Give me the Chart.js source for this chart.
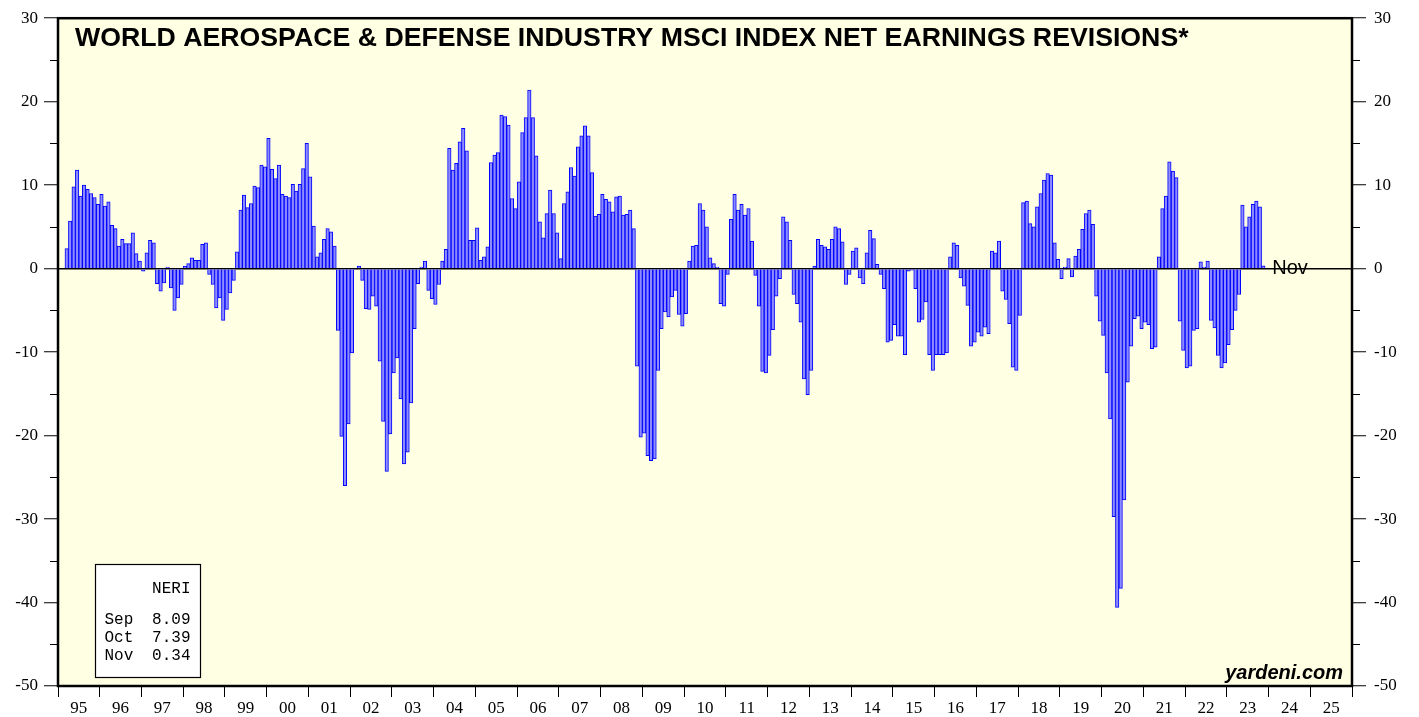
<!DOCTYPE html>
<html>
<head>
<meta charset="utf-8">
<title>World Aerospace & Defense NERI</title>
<script src="https://cdn.jsdelivr.net/npm/chart.js@4.4.0/dist/chart.umd.min.js"></script>
<style>
  html, body { margin: 0; padding: 0; background: #fff; }
  #wrap { width: 1419px; height: 717px; }
</style>
</head>
<body>
<div id="wrap"><canvas id="neriChart" width="1419" height="717"></canvas></div>
<script>
// NERI, monthly values starting Mar 1995 (one line per year)
const firstYear = 1995;
const firstMonth = 2; // 0 = Jan
const neri = [
  /*1995*/ 2.4, 5.7, 9.8, 11.8, 8.7, 10.0, 9.5, 9.0, 8.5, 7.7,
  /*1996*/ 8.9, 7.5, 8.0, 5.2, 4.8, 2.7, 3.5, 3.0, 3.0, 4.3, 1.8, 0.9,
  /*1997*/ -0.3, 1.9, 3.4, 3.1, -1.8, -2.7, -1.7, 0.2, -2.3, -5.0, -3.5, -1.9,
  /*1998*/ 0.3, 0.6, 1.3, 1.0, 1.0, 2.9, 3.1, -0.7, -1.9, -4.7, -3.5, -6.2,
  /*1999*/ -4.9, -2.9, -1.4, 2.0, 7.0, 8.8, 7.3, 7.8, 9.9, 9.7, 12.4, 12.2,
  /*2000*/ 15.6, 11.9, 10.8, 12.4, 8.9, 8.7, 8.5, 10.1, 9.3, 10.1, 12.0, 15.0,
  /*2001*/ 11.0, 5.1, 1.4, 1.9, 3.5, 4.8, 4.4, 2.7, -7.4, -20.1, -26.0, -18.6,
  /*2002*/ -10.1, -0.1, 0.3, -1.4, -4.8, -4.9, -3.3, -4.5, -11.1, -18.3, -24.3, -19.8,
  /*2003*/ -12.5, -10.7, -15.6, -23.4, -22.0, -16.1, -7.2, -1.8, 0.2, 0.9, -2.6, -3.6,
  /*2004*/ -4.3, -1.9, 0.9, 2.3, 14.4, 11.8, 12.6, 15.2, 16.8, 14.1, 3.4, 3.4,
  /*2005*/ 4.9, 1.0, 1.4, 2.6, 12.7, 13.6, 13.9, 18.4, 18.2, 17.2, 8.4, 7.2,
  /*2006*/ 10.4, 16.3, 18.1, 21.4, 18.1, 13.5, 5.6, 3.7, 6.6, 9.4, 6.6, 4.3,
  /*2007*/ 1.2, 7.8, 9.2, 12.1, 11.1, 14.6, 15.9, 17.1, 15.9, 11.5, 6.3, 6.5,
  /*2008*/ 8.9, 8.3, 8.0, 6.8, 8.6, 8.7, 6.4, 6.5, 7.0, 4.8, -11.7, -20.2,
  /*2009*/ -19.7, -22.4, -23.0, -22.8, -12.2, -7.2, -5.2, -5.8, -3.4, -2.6, -5.5, -6.9,
  /*2010*/ -5.4, 0.9, 2.7, 2.8, 7.8, 7.0, 5.0, 1.3, 0.6, 0.2, -4.2, -4.5,
  /*2011*/ -0.7, 5.9, 8.9, 7.0, 7.7, 6.4, 7.2, 3.3, -0.8, -4.5, -12.3, -12.5,
  /*2012*/ -10.4, -7.3, -3.3, -1.2, 6.2, 5.6, 3.4, -3.1, -4.2, -6.4, -13.2, -15.1,
  /*2013*/ -12.2, 0.3, 3.5, 2.8, 2.6, 2.3, 3.5, 5.0, 4.8, 3.2, -1.9, -0.7,
  /*2014*/ 2.1, 2.5, -1.1, -1.8, 1.9, 4.6, 3.6, 0.5, -0.7, -2.4, -8.8, -8.6,
  /*2015*/ -6.7, -8.1, -8.1, -10.3, -0.3, -0.2, -2.4, -6.4, -6.1, -4.0, -10.3, -12.2,
  /*2016*/ -10.3, -10.3, -10.3, -10.1, 1.4, 3.1, 2.8, -1.1, -2.1, -4.4, -9.3, -8.8,
  /*2017*/ -7.6, -8.1, -7.0, -7.8, 2.1, 1.9, 3.3, -2.7, -3.7, -6.6, -11.8, -12.2,
  /*2018*/ -5.6, 7.9, 8.1, 5.4, 5.0, 7.4, 9.0, 10.6, 11.4, 11.2, 3.1, 1.1,
  /*2019*/ -1.2, 0.2, 1.2, -1.0, 1.5, 2.3, 4.7, 6.6, 7.0, 5.3, -3.3, -6.3,
  /*2020*/ -8.0, -12.5, -18.0, -29.7, -40.6, -38.3, -27.7, -13.6, -9.3, -6.0, -5.7, -7.2,
  /*2021*/ -6.4, -6.7, -9.6, -9.4, 1.4, 7.2, 8.7, 12.8, 11.7, 10.9, -6.3, -9.8,
  /*2022*/ -11.9, -11.7, -7.4, -7.2, 0.8, 0.2, 0.9, -6.2, -7.1, -10.4, -11.9, -11.3,
  /*2023*/ -9.1, -7.3, -5.0, -3.1, 7.6, 5.0, 6.2, 7.7, 8.09, 7.39, 0.34
];

const yearLabels = ['95','96','97','98','99','00','01','02','03','04','05','06','07','08','09','10',
                    '11','12','13','14','15','16','17','18','19','20','21','22','23','24','25'];
const monthNames = ['Jan','Feb','Mar','Apr','May','Jun','Jul','Aug','Sep','Oct','Nov','Dec'];
const yMin = -50, yMax = 30;

const chartTitle = 'WORLD AEROSPACE & DEFENSE INDUSTRY MSCI INDEX NET EARNINGS REVISIONS*';
const sourceText = 'yardeni.com';

// month index (0 = Jan 1995) -> bar centre
const points = neri.map((v, i) => ({ x: firstMonth + i + 0.5, y: v }));
const lastIdx = firstMonth + neri.length - 1;

const SANS = '"Liberation Sans", Arial, sans-serif';
const SERIF = '"Liberation Serif", "Times New Roman", serif';
const MONO = '"Liberation Mono", "Courier New", monospace';

const plotDecor = {
    id: 'plotDecor',
    beforeDraw(chart) {
        const { ctx, chartArea: a } = chart;
        ctx.save();
        ctx.fillStyle = '#ffffe3';
        ctx.fillRect(a.left, a.top, a.right - a.left, a.bottom - a.top);
        ctx.restore();
    },
    afterDraw(chart) {
        const { ctx, chartArea: a } = chart;
        const xs = chart.scales.x, ys = chart.scales.y;
        ctx.save();

        // frame
        ctx.strokeStyle = '#000';
        ctx.lineWidth = 2.5;
        ctx.strokeRect(a.left, a.top, a.right - a.left, a.bottom - a.top);

        // minor ticks every 5
        ctx.lineWidth = 1;
        for (let v = yMin + 5; v < yMax; v += 10) {
            const py = Math.round(ys.getPixelForValue(v)) + 0.5;
            ctx.beginPath();
            ctx.moveTo(a.left - 8, py); ctx.lineTo(a.left, py);
            ctx.moveTo(a.right, py); ctx.lineTo(a.right + 8, py);
            ctx.stroke();
        }

        // title inside plot
        ctx.fillStyle = '#000';
        ctx.font = 'bold 26.7px ' + SANS;
        ctx.textBaseline = 'alphabetic';
        ctx.textAlign = 'left';
        ctx.fillText(chartTitle, a.left + 17, a.top + 28);

        // last month label
        const lastX = xs.getPixelForValue(lastIdx + 0.5);
        ctx.font = '20px ' + SANS;
        ctx.fillText(monthNames[(lastIdx) % 12], lastX + 9, ys.getPixelForValue(0) + 5);

        // source
        ctx.font = 'italic bold 20px ' + SANS;
        ctx.textAlign = 'right';
        ctx.fillText(sourceText, a.right - 9, a.bottom - 7);

        // value box
        const bx = 95.5, by = 564.5, bw = 105, bh = 113;
        ctx.fillStyle = '#ffffff';
        ctx.fillRect(bx, by, bw, bh);
        ctx.strokeStyle = '#000';
        ctx.lineWidth = 1.2;
        ctx.strokeRect(bx, by, bw, bh);
        ctx.fillStyle = '#000';
        ctx.font = '16px ' + MONO;
        ctx.textAlign = 'right';
        ctx.fillText('NERI', bx + 95, by + 28);
        const rows = [624, 642, 660];
        for (let k = 0; k < 3; k++) {
            const idx = neri.length - 3 + k;
            const m = (firstMonth + idx) % 12;
            ctx.textAlign = 'left';
            ctx.fillText(monthNames[m], bx + 9, rows[k]);
            ctx.textAlign = 'right';
            ctx.fillText(neri[idx].toFixed(2), bx + 95, rows[k]);
        }
        ctx.restore();
    }
};

const yAxis = (pos, width, pad) => ({
    type: 'linear',
    position: pos,
    min: yMin,
    max: yMax,
    border: { display: false },
    grid: {
        drawOnChartArea: pos === 'left',
        drawTicks: true,
        tickLength: 14,
        lineWidth: 1.5,
        tickWidth: 1,
        color: c => (c.tick && c.tick.value === 0) ? '#000' : 'rgba(0,0,0,0)',
        tickColor: c => (c.tick && c.tick.value % 10 === 0) ? '#000' : 'rgba(0,0,0,0)'
    },
    ticks: {
        stepSize: 5,
        padding: pad,
        color: '#000',
        font: { family: SERIF, size: 17 },
        callback: v => (v % 10 === 0 ? String(v) : '')
    },
    afterFit: s => { s.width = width; }
});

new Chart(document.getElementById('neriChart'), {
    type: 'bar',
    data: {
        datasets: [{
            label: 'NERI',
            data: points,
            backgroundColor: '#8c8cff',
            borderColor: '#0000ff',
            borderWidth: 1,
            barPercentage: 1,
            categoryPercentage: 1
        }]
    },
    options: {
        responsive: false,
        animation: false,
        devicePixelRatio: 1,
        layout: { padding: { top: 15, left: 0, right: 0, bottom: 0 } },
        plugins: { legend: { display: false }, tooltip: { enabled: false } },
        scales: {
            x: {
                type: 'linear',
                min: 0,
                max: yearLabels.length * 12,
                offset: false,
                border: { display: false },
                grid: { offset: false, drawOnChartArea: false, drawTicks: true, tickLength: 11, color: '#000', lineWidth: 1 },
                ticks: {
                    stepSize: 12,
                    autoSkip: false,
                    maxRotation: 0,
                    labelOffset: 20.87,
                    padding: 1,
                    color: '#000',
                    font: { family: SERIF, size: 17 },
                    callback: v => yearLabels[v / 12] || ''
                },
                afterFit: s => { s.height = 31; }
            },
            y: yAxis('left', 58, 6),
            y2: yAxis('right', 67, 8)
        }
    },
    plugins: [plotDecor]
});
</script>
</body>
</html>
